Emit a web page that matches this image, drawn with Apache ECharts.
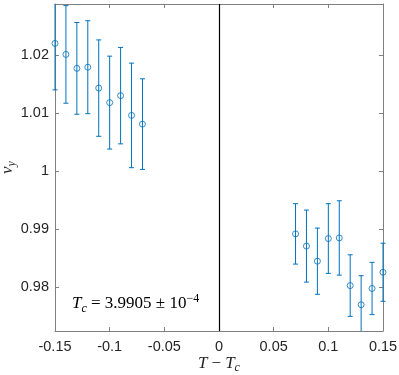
<!DOCTYPE html>
<html>
<head>
<meta charset="utf-8">
<script src="https://cdn.jsdelivr.net/npm/echarts@6/dist/echarts.min.js"></script>
<style>
  html, body { margin: 0; padding: 0; background: #fff; }
  #chart { width: 399px; height: 375px; }
</style>
</head>
<body>
<div id="chart"></div>
<script>
// T - Tc values and fitted exponent nu_y with its error
const tValues = [-0.15, -0.14, -0.13, -0.12, -0.11, -0.10, -0.09, -0.08, -0.07,
                 0.07, 0.08, 0.09, 0.10, 0.11, 0.12, 0.13, 0.14, 0.15]
const nuValues = [1.0220, 1.0201, 1.0177, 1.0179, 1.0143, 1.0118, 1.0130, 1.0096, 1.0081,
                  0.9892, 0.9871, 0.9845, 0.9884, 0.9885, 0.9803, 0.9770, 0.9798, 0.9826]
const nuErrors = [0.0080, 0.0084, 0.0079, 0.0080, 0.0083, 0.0080, 0.0083, 0.0090, 0.0078,
                  0.0052, 0.0062, 0.0057, 0.0060, 0.0064, 0.0053, 0.0050, 0.0045, 0.0050]
const xTicks = [-0.15, -0.1, -0.05, 0, 0.05, 0.1, 0.15]
const yTicks = [0.98, 0.99, 1, 1.01, 1.02]

const blue = '#0072BD'
const axisGray = '#808080'
const textColor = '#262626'
const points = tValues.map((t, i) => [t, nuValues[i], nuErrors[i]])

const chart = echarts.init(document.getElementById('chart'))

function renderErrorBar(params, api) {
  const x = api.value(0), y = api.value(1), e = api.value(2)
  const top = api.coord([x, y + e])
  const bot = api.coord([x, y - e])
  const cs = params.coordSys
  const yTop = Math.max(top[1], cs.y)
  const yBot = Math.min(bot[1], cs.y + cs.height)
  const style = { stroke: blue, lineWidth: 1 }
  const children = [{ type: 'line', shape: { x1: top[0], y1: yTop, x2: top[0], y2: yBot }, style }]
  if (top[1] >= cs.y) children.push({ type: 'line', shape: { x1: top[0] - 2.5, y1: top[1], x2: top[0] + 2.5, y2: top[1] }, style })
  if (bot[1] <= cs.y + cs.height) children.push({ type: 'line', shape: { x1: bot[0] - 2.5, y1: bot[1], x2: bot[0] + 2.5, y2: bot[1] }, style })
  return { type: 'group', children }
}

const tickFmt = v => String(+v.toFixed(2))
const baseX = {
  type: 'value', min: -0.15, max: 0.15, interval: 0.05,
  splitLine: { show: false },
  axisLine: { onZero: false, lineStyle: { color: axisGray, width: 1 } },
  axisTick: { inside: true, length: 4, lineStyle: { color: axisGray } }
}
const baseY = {
  type: 'value', min: 0.97248, max: 1.02878,
  splitLine: { show: false },
  axisLine: { onZero: false, lineStyle: { color: axisGray, width: 1 } },
  axisTick: { inside: true, length: 4, customValues: yTicks, lineStyle: { color: axisGray } }
}

chart.setOption({
  animation: false,
  grid: { left: 55, right: 16, top: 4, bottom: 44, containLabel: false, outerBoundsMode: 'none' },
  xAxis: [
    Object.assign({}, baseX, {
      position: 'bottom',
      axisLabel: { color: textColor, fontFamily: 'Liberation Sans', fontSize: 14.5, margin: 8, formatter: tickFmt },
      name: '{i|T}{n|−}{i|T}{s|c}', nameLocation: 'middle', nameGap: 23, nameMoveOverlap: false,
      nameTextStyle: {
        rich: {
          i: { fontFamily: 'Liberation Serif', fontStyle: 'italic', fontSize: 17, color: textColor, lineHeight: 20 },
          n: { fontFamily: 'Liberation Serif', fontSize: 17, color: textColor, lineHeight: 20, padding: [0, 4] },
          s: { fontFamily: 'Liberation Serif', fontStyle: 'italic', fontSize: 12, color: textColor, lineHeight: 13, verticalAlign: 'bottom' }
        }
      }
    }),
    Object.assign({}, baseX, { position: 'top', axisLabel: { show: false } })
  ],
  yAxis: [
    Object.assign({}, baseY, {
      position: 'left',
      axisLabel: { color: textColor, fontFamily: 'Liberation Sans', fontSize: 14.5, margin: 6,
                   customValues: yTicks, formatter: tickFmt },
      name: '{i|ν}{s|y}', nameLocation: 'middle', nameRotate: 90, nameGap: 37, nameMoveOverlap: false,
      nameTextStyle: {
        rich: {
          i: { fontFamily: 'Liberation Serif', fontStyle: 'italic', fontSize: 17, color: textColor, lineHeight: 20 },
          s: { fontFamily: 'Liberation Serif', fontStyle: 'italic', fontSize: 12, color: textColor, lineHeight: 13, verticalAlign: 'bottom' }
        }
      }
    }),
    Object.assign({}, baseY, { position: 'right', axisLabel: { show: false } })
  ],
  graphic: [{
    type: 'text', left: 72, top: 293,
    style: {
      text: '{i|T}{s|c}{n| = 3.9905 ± 10}{p|−4}',
      rich: {
        i: { fontFamily: 'Liberation Serif', fontStyle: 'italic', fontSize: 17, fill: '#000', lineHeight: 22 },
        n: { fontFamily: 'Liberation Serif', fontSize: 17, fill: '#000', lineHeight: 22 },
        s: { fontFamily: 'Liberation Serif', fontStyle: 'italic', fontSize: 12, fill: '#000', lineHeight: 13, verticalAlign: 'bottom' },
        p: { fontFamily: 'Liberation Serif', fontSize: 12, fill: '#000', lineHeight: 13, verticalAlign: 'top' }
      }
    }
  }],
  series: [
    {
      type: 'custom', renderItem: renderErrorBar, data: points,
      encode: { x: 0, y: 1 }, z: 3
    },
    {
      type: 'scatter', data: points.map(p => [p[0], p[1]]),
      symbol: 'circle', symbolSize: 6,
      itemStyle: { color: 'transparent', borderColor: blue, borderWidth: 1 },
      z: 4,
      markLine: {
        silent: true, symbol: 'none', label: { show: false },
        lineStyle: { color: '#000', width: 1.2, type: 'solid' },
        data: [{ xAxis: 0 }]
      }
    }
  ]
})
</script>
</body>
</html>
